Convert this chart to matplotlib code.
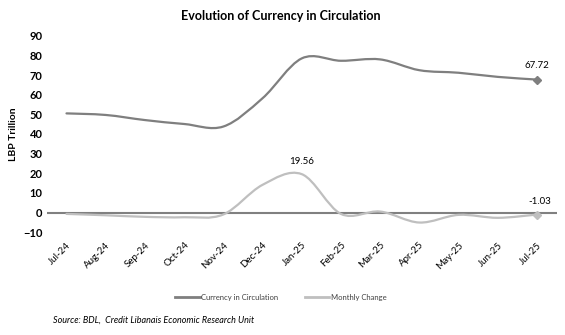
import numpy as np
import matplotlib
matplotlib.use("Agg")
import matplotlib.pyplot as plt
from matplotlib.path import Path
from matplotlib.patches import PathPatch
from matplotlib.lines import Line2D

months = ["Jul-24", "Aug-24", "Sep-24", "Oct-24", "Nov-24", "Dec-24", "Jan-25",
          "Feb-25", "Mar-25", "Apr-25", "May-25", "Jun-25", "Jul-25"]
currency = [50.5, 49.7, 47.1, 45.1, 43.8, 58.2, 78.5, 77.3, 78.0, 72.5, 71.2, 69.1, 67.72]
monthly_change = [-0.7, -1.4, -2.2, -2.4, -1.0, 14.1, 19.56, -0.7, 0.5, -5.1, -1.2, -2.7, -1.03]

C_CUR = "#7f7f7f"
C_CHG = "#bfbfbf"
FONT = ["Lato", "DejaVu Sans"]
plt.rcParams["font.family"] = FONT


def smooth_path(xs, ys):
    """Cubic Bezier path through the points (Catmull-Rom style tangents)."""
    xs = np.asarray(xs, float)
    ys = np.asarray(ys, float)
    n = len(xs)
    verts = [(xs[0], ys[0])]
    codes = [Path.MOVETO]
    for i in range(n - 1):
        p0 = i - 1 if i > 0 else i
        p3 = i + 2 if i + 2 < n else i + 1
        c1 = (xs[i] + (xs[i + 1] - xs[p0]) / 6, ys[i] + (ys[i + 1] - ys[p0]) / 6)
        c2 = (xs[i + 1] - (xs[p3] - xs[i]) / 6, ys[i + 1] - (ys[p3] - ys[i]) / 6)
        verts += [c1, c2, (xs[i + 1], ys[i + 1])]
        codes += [Path.CURVE4] * 3
    return Path(verts, codes)


fig = plt.figure(figsize=(5.65, 3.35), dpi=100)
ax = fig.add_axes([0.083, 0.307, 0.902, 0.586])

x = np.arange(len(months))
for vals, col in [(monthly_change, C_CHG), (currency, C_CUR)]:
    ax.add_patch(PathPatch(smooth_path(x, vals), facecolor="none", edgecolor=col,
                           lw=1.6, capstyle="round", joinstyle="round", zorder=3))
    ax.plot([x[-1]], [vals[-1]], marker="D", ms=3.6, color=col, lw=0, zorder=4)

ax.axhline(0, color="#808080", lw=1.5, zorder=2)

ax.set_xlim(-0.5, len(months) - 0.5)
ax.set_ylim(-10, 90)
ax.set_yticks(np.arange(-10, 91, 10))
ax.set_xticks(x)
ax.set_xticklabels(months, rotation=45, ha="right", va="top", rotation_mode="anchor",
                   fontsize=7)
for lbl in ax.get_yticklabels():
    lbl.set_fontweight("bold")
    lbl.set_fontsize(8)
ax.tick_params(axis="both", length=0, pad=3)
ax.tick_params(axis="x", pad=6)
for s in ax.spines.values():
    s.set_visible(False)

ax.set_ylabel("LBP Trillion", fontsize=7.5, fontweight="bold", labelpad=4)

# value labels
ax.annotate(f"{currency[-1]:.2f}", (x[-1], currency[-1]), xytext=(0, 7),
            textcoords="offset points", ha="center", va="bottom", fontsize=7)
peak = int(np.argmax(monthly_change))
ax.annotate(f"{monthly_change[peak]:.2f}", (x[peak], monthly_change[peak]), xytext=(0, 6),
            textcoords="offset points", ha="center", va="bottom", fontsize=7)
ax.annotate(f"{monthly_change[-1]:.2f}", (x[-1], monthly_change[-1]), xytext=(2, 6),
            textcoords="offset points", ha="center", va="bottom", fontsize=7)

fig.text(0.497, 0.952, "Evolution of Currency in Circulation", ha="center", va="center",
         fontsize=9, fontweight="bold")

handles = [Line2D([], [], color=C_CUR, lw=2), Line2D([], [], color=C_CHG, lw=2)]
fig.legend(handles, ["Currency in Circulation", "Monthly Change"], loc="center",
           bbox_to_anchor=(0.497, 0.113), ncol=2, frameon=False, fontsize=5.5,
           handlelength=3.2, handletextpad=0.2, columnspacing=3.5,
           labelcolor="#404040")

fig.text(0.094, 0.045, "Source: BDL,  Credit Libanais Economic Research Unit",
         ha="left", va="center", fontsize=6.5, style="italic")

fig.savefig("out.png", dpi=100)
